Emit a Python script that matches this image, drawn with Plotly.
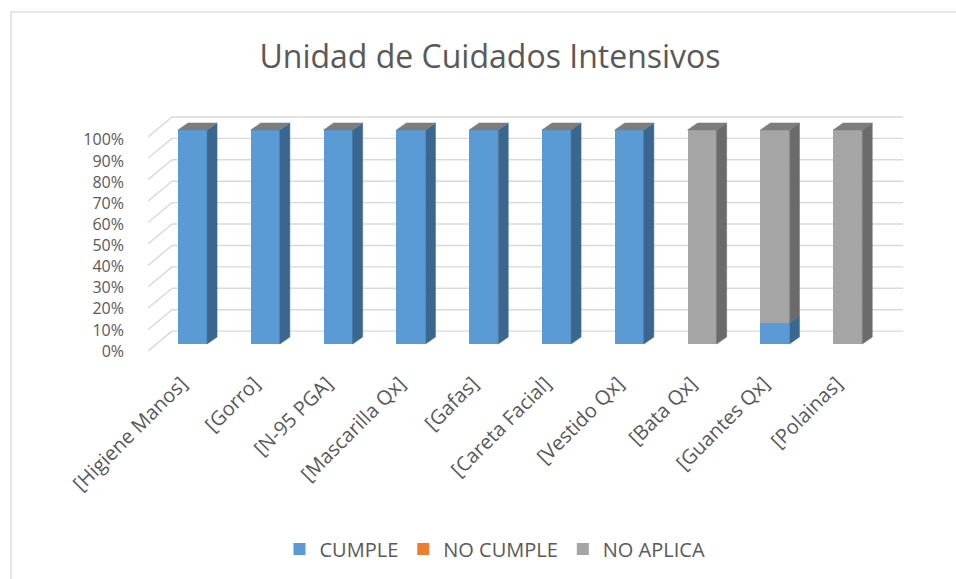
import plotly.graph_objects as go

# ---------------- data ----------------
categories = ["[Higiene Manos]", "[Gorro]", "[N-95 PGA]", "[Mascarilla Qx]", "[Gafas]",
              "[Careta Facial]", "[Vestido Qx]", "[Bata Qx]", "[Guantes Qx]", "[Polainas]"]
cumple = [1.0, 1.0, 1.0, 1.0, 1.0, 1.0, 1.0, 0.0, 0.1, 0.0]
no_cumple = [0.0, 0.0, 0.0, 0.0, 0.0, 0.0, 0.0, 0.0, 0.0, 0.0]
no_aplica = [0.0, 0.0, 0.0, 0.0, 0.0, 0.0, 0.0, 1.0, 0.9, 1.0]
series_names = ["CUMPLE", "NO CUMPLE", "NO APLICA"]
y_ticks = [0.0, 0.1, 0.2, 0.3, 0.4, 0.5, 0.6, 0.7, 0.8, 0.9, 1.0]
title_text = "Unidad de Cuidados Intensivos"

# ---------------- styling ----------------
W, H = 956, 579
PX_L, PX_R, PX_T, PX_B = 148, 903, 112, 360
CAT_PX0, CAT_STEP = 192.5, 72.8           # px of first category centre, px per category
Y0_PX, Y_UNIT = 345, 215                  # bar base px, px per 100 %
LBL0_PX, LBL_UNIT = 352, 212              # tick-label axis mapping

x_lo = -(CAT_PX0 - PX_L) / CAT_STEP
x_hi = x_lo + (PX_R - PX_L) / CAT_STEP
y_lo = (Y0_PX - PX_B) / Y_UNIT
y_hi = (Y0_PX - PX_T) / Y_UNIT
l_lo = (LBL0_PX - PX_B) / LBL_UNIT
l_hi = (LBL0_PX - PX_T) / LBL_UNIT

BAR_W = 0.4
DX = 10 / CAT_STEP      # bar depth offset (x units)
DY = 7 / Y_UNIT         # bar depth offset (y units)
WALL_DY = 13 / Y_UNIT   # back wall offset
SIDE_DX = 24 / CAT_STEP
SIDE_DY = 20 / Y_UNIT
LABEL_SHIFT = 11 / CAT_STEP

front_cols = ["#5B9BD5", "#ED7D31", "#A5A5A5"]
side_cols = ["#3A6690", "#B05A20", "#6B6B6B"]
top_col = "#7D7D7D"
grid_col = "#D9D9D9"
txt_col = "#595959"
FONT = "Open Sans"

series_vals = [cumple, no_cumple, no_aplica]
xs = list(range(len(categories)))

fig = go.Figure()

# front faces
for name, vals, col in zip(series_names, series_vals, front_cols):
    fig.add_trace(go.Bar(x=xs, y=vals, name=name, width=BAR_W,
                         marker=dict(color=col, line=dict(width=0)),
                         hoverinfo="skip"))

# side faces
base = [0.0] * len(xs)
for vals, col in zip(series_vals, side_cols):
    px, py = [], []
    for i, v in enumerate(vals):
        if v > 0:
            xr = xs[i] + BAR_W / 2
            b, t = base[i], base[i] + v
            px += [xr, xr + DX, xr + DX, xr, xr, None]
            py += [b, b + DY, t + DY, t, b, None]
        base[i] += v
    if px:
        fig.add_trace(go.Scatter(x=px, y=py, mode="lines", fill="toself",
                                 fillcolor=col, line=dict(color=col, width=0.5),
                                 showlegend=False, hoverinfo="skip"))

# top faces
px, py = [], []
for i, t in enumerate(base):
    xl, xr = xs[i] - BAR_W / 2, xs[i] + BAR_W / 2
    px += [xl, xl + DX, xr + DX, xr, xl, None]
    py += [t, t + DY, t + DY, t, t, None]
fig.add_trace(go.Scatter(x=px, y=py, mode="lines", fill="toself",
                         fillcolor=top_col, line=dict(color=top_col, width=0.5),
                         showlegend=False, hoverinfo="skip"))

# invisible trace for the label axis
fig.add_trace(go.Scatter(x=[xs[0]] * len(y_ticks), y=y_ticks, yaxis="y2", mode="markers",
                         marker=dict(opacity=0), showlegend=False, hoverinfo="skip"))

# gridlines on back wall + left side wall
shapes = []
x_back = x_lo + SIDE_DX
for v in y_ticks:
    yb = v + WALL_DY
    shapes.append(dict(type="line", xref="x", yref="y", x0=x_back, x1=x_hi, y0=yb, y1=yb,
                       line=dict(color=grid_col, width=1.4), layer="below"))
    shapes.append(dict(type="line", xref="x", yref="y", x0=x_lo, x1=x_back,
                       y0=yb - SIDE_DY, y1=yb,
                       line=dict(color=grid_col, width=1.4), layer="below"))

# chart border
pw, ph = PX_R - PX_L, PX_B - PX_T
shapes.append(dict(type="rect", xref="paper", yref="paper",
                   x0=(11 - PX_L) / pw, x1=(970 - PX_L) / pw,
                   y0=(PX_B - 590) / ph, y1=(PX_B - 11.5) / ph,
                   line=dict(color=grid_col, width=1.3), layer="below"))

fig.update_layout(
    width=W, height=H,
    barmode="stack",
    paper_bgcolor="white", plot_bgcolor="rgba(0,0,0,0)",
    margin=dict(l=PX_L, r=W - PX_R, t=PX_T, b=H - PX_B, pad=0),
    font=dict(family=FONT, color=txt_col),
    title=dict(text=title_text, x=(490 - PX_L) / pw, xref="paper", xanchor="center",
               y=1 - 57 / H, yanchor="middle",
               font=dict(size=32, color=txt_col, family=FONT)),
    xaxis=dict(range=[x_lo, x_hi], tickmode="array",
               tickvals=[x - LABEL_SHIFT for x in xs], ticktext=categories,
               tickangle=-45, showgrid=False, zeroline=False, showline=False,
               ticks="", tickfont=dict(size=20, color=txt_col), ticklabelstandoff=8),
    yaxis=dict(range=[y_lo, y_hi], showgrid=False, zeroline=False, showline=False,
               showticklabels=False, ticks=""),
    yaxis2=dict(range=[l_lo, l_hi], overlaying="y", side="left", tickmode="array",
                tickvals=y_ticks, tickformat=".0%", showgrid=False, zeroline=False,
                showline=False, ticks="", tickfont=dict(size=16, color=txt_col),
                ticklabelstandoff=23),
    legend=dict(orientation="h", x=(495 - PX_L) / pw, xanchor="center",
                y=(PX_B - 549) / ph, yanchor="middle",
                font=dict(size=20, color=txt_col), traceorder="normal"),
    shapes=shapes,
)

fig.write_html("out.html", config={"displayModeBar": False},
               post_script="document.body.style.margin='0px';")
